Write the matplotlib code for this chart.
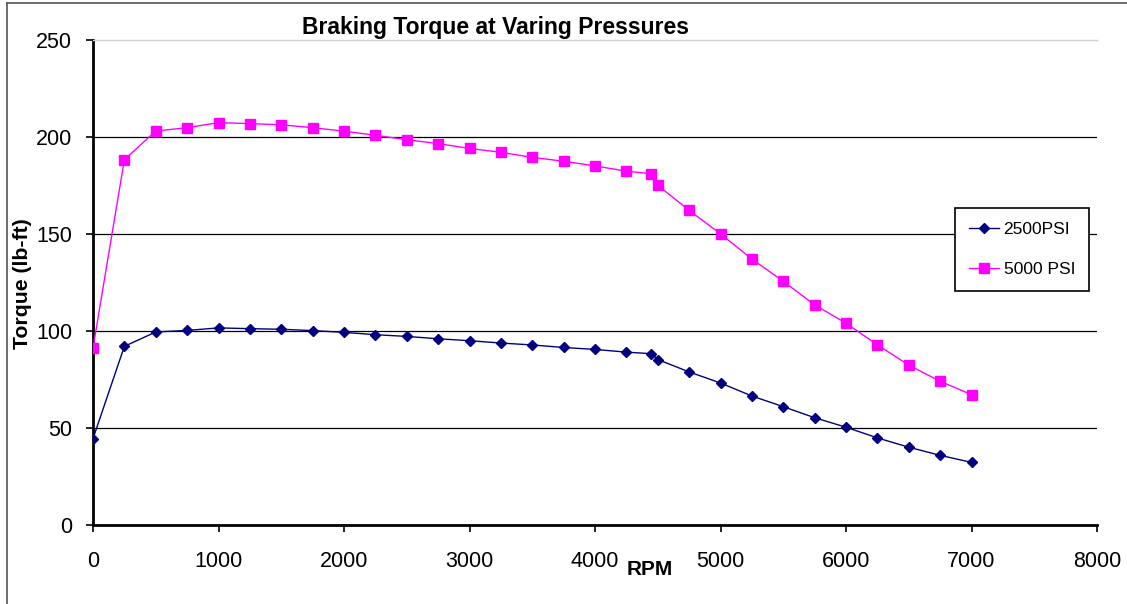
import matplotlib
matplotlib.use("Agg")
import matplotlib.pyplot as plt
from matplotlib.lines import Line2D

# RPM values (extra point near 4450 as in the sheet)
rpm = [0, 250, 500, 750, 1000, 1250, 1500, 1750, 2000, 2250, 2500, 2750,
       3000, 3250, 3500, 3750, 4000, 4250, 4450, 4500, 4750, 5000, 5250,
       5500, 5750, 6000, 6250, 6500, 6750, 7000]

# torque readings (lb-ft)
torque_2500 = [44.5, 92.1, 99.5, 100.3, 101.6, 101.2, 100.9, 100.2, 99.3, 98.1,
               97.2, 96.0, 95.0, 93.8, 92.8, 91.5, 90.5, 89.1, 88.3, 85.3,
               78.9, 73.2, 66.5, 61.0, 55.3, 50.4, 44.9, 40.1, 35.9, 32.3]
torque_5000 = [91.2, 188.3, 203.1, 204.8, 207.4, 206.9, 206.3, 204.8, 203.0, 200.9,
               198.6, 196.6, 194.1, 192.1, 189.5, 187.5, 185.1, 182.4, 181.0, 175.1,
               162.2, 150.1, 137.1, 125.6, 113.5, 104.0, 92.9, 82.4, 74.1, 67.2]

series_names = ["2500PSI", "5000 PSI"]
x_ticks = [0, 1000, 2000, 3000, 4000, 5000, 6000, 7000, 8000]
y_ticks = [0, 50, 100, 150, 200, 250]

plt.rcParams['font.family'] = ['Liberation Sans', 'DejaVu Sans']

W, H = 1127, 604
fig = plt.figure(figsize=(W / 100, H / 100), dpi=100)
ax = fig.add_axes([93 / W, 1 - 525 / H, (1097 - 93) / W, (525 - 40) / H])

# horizontal gridlines
for yv in y_ticks[1:-1]:
    ax.axhline(yv, color="black", lw=0.9, zorder=1)

ax.plot(rpm, torque_2500, color="#000080", lw=1.0, marker="D", ms=5.5,
        label=series_names[0], zorder=3)
ax.plot(rpm, torque_5000, color="#FF00FF", lw=1.0, marker="s", ms=6.5,
        label=series_names[1], zorder=3)

ax.set_xlim(0, 8000)
ax.set_ylim(0, 250)
ax.set_xticks(x_ticks)
ax.set_yticks(y_ticks)
ax.tick_params(axis="both", labelsize=15.5, direction="out", length=5, width=1.2)
ax.tick_params(axis="y", pad=10)
ax.tick_params(axis="x", pad=14)

ax.spines["right"].set_visible(False)
ax.spines["top"].set_color("#d0d0d0")
ax.spines["top"].set_linewidth(1.0)
ax.spines["left"].set_linewidth(2.0)
ax.spines["bottom"].set_linewidth(2.0)

ax.set_title("Braking Torque at Varing Pressures", fontsize=16.5, fontweight="bold",
             x=0.4004, pad=4)
ax.set_ylabel("Torque (lb-ft)", fontsize=15.3, fontweight="bold")
ax.yaxis.set_label_coords(-0.061, 0.497)
ax.set_xlabel("RPM", fontsize=15, fontweight="bold")
ax.xaxis.set_label_coords((650 - 93) / (1097 - 93), -0.072)

leg = ax.legend(loc="upper left", bbox_to_anchor=(0.859, 0.653),
                fontsize=12.5, frameon=True, fancybox=False,
                edgecolor="black", framealpha=1, borderpad=0.8, labelspacing=1.4,
                handlelength=1.72, handletextpad=0.25, borderaxespad=0)
leg.get_frame().set_linewidth(1.2)

# outer chart border (left and top only, rest is cropped)
fig.add_artist(Line2D([7 / W, 7 / W], [0, 1 - 3 / H], color="#555555", lw=1.2))
fig.add_artist(Line2D([7 / W, 1], [1 - 3 / H, 1 - 3 / H], color="#555555", lw=1.2))

fig.savefig("out.png", dpi=100)
